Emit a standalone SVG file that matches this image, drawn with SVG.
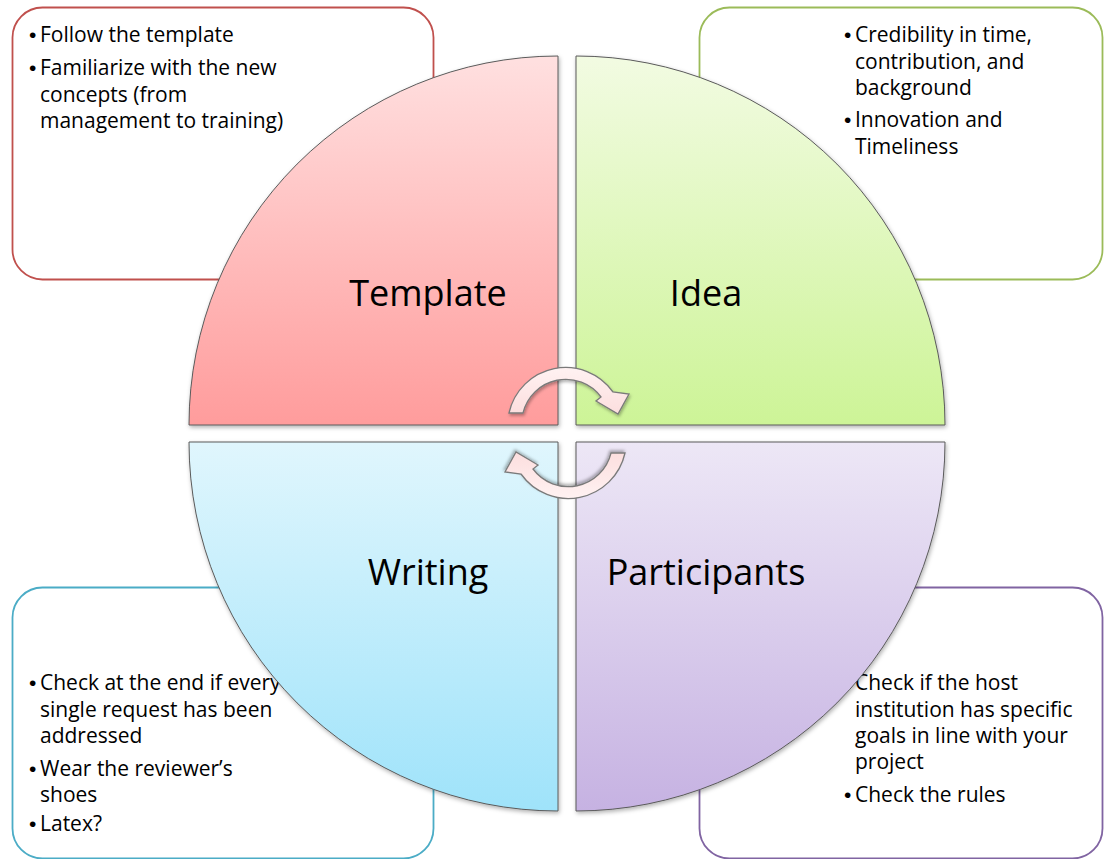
<svg xmlns="http://www.w3.org/2000/svg" width="1104" height="859" viewBox="0 0 1104 859">
<defs>
<style>
.box{fill:#fff;stroke-width:1.8}
.t{font-family:"Open Sans","Liberation Sans",sans-serif;font-size:21px;fill:#000}
.b{font-family:"Liberation Sans","DejaVu Sans",sans-serif;font-size:21px}
.lbl{font-family:"Open Sans","Liberation Sans",sans-serif;font-size:36px;fill:#000;text-anchor:middle}
.q{stroke:#5a5a5a;stroke-width:1;filter:url(#sh)}
.arr{fill:url(#gA);stroke:#7a7a7a;stroke-width:1.3;filter:url(#sh2)}
</style>
<linearGradient id="gT" x1="0" y1="0" x2="0" y2="1"><stop offset="0" stop-color="#ffe0e0"/><stop offset="1" stop-color="#ff9c9c"/></linearGradient>
<linearGradient id="gI" x1="0" y1="0" x2="0" y2="1"><stop offset="0" stop-color="#f2fbe2"/><stop offset="1" stop-color="#cdf497"/></linearGradient>
<linearGradient id="gW" x1="0" y1="0" x2="0" y2="1"><stop offset="0" stop-color="#e0f6fd"/><stop offset="1" stop-color="#9fe3fa"/></linearGradient>
<linearGradient id="gP" x1="0" y1="0" x2="0" y2="1"><stop offset="0" stop-color="#ede7f6"/><stop offset="1" stop-color="#c6b2e2"/></linearGradient>
<linearGradient id="gA" x1="0" y1="0" x2="0" y2="1"><stop offset="0" stop-color="#fff2f2"/><stop offset="1" stop-color="#fcdede"/></linearGradient>
<filter id="sh" x="-10%" y="-10%" width="120%" height="120%"><feDropShadow dx="1" dy="2" stdDeviation="2" flood-color="#000" flood-opacity="0.3"/></filter>
<filter id="sh2" x="-20%" y="-20%" width="140%" height="140%"><feDropShadow dx="1" dy="2" stdDeviation="1.5" flood-color="#000" flood-opacity="0.3"/></filter>
</defs>
<rect width="1104" height="859" fill="#fff"/>

<g id="box-template">
<rect class="box" x="12.5" y="7.5" width="421" height="272" rx="30" stroke="#c0504d"/>
<text class="t"><tspan class="b" x="29" y="42">•</tspan><tspan x="40" y="42">Follow the template</tspan><tspan class="b" x="29" y="75">•</tspan><tspan x="40" y="75">Familiarize with the new</tspan><tspan x="40" y="101.5">concepts (from</tspan><tspan x="40" y="128">management to training)</tspan></text>
</g>
<g id="box-idea">
<rect class="box" x="699.5" y="7.5" width="403" height="272" rx="30" stroke="#9bbb59"/>
<text class="t"><tspan class="b" x="844" y="42">•</tspan><tspan x="855" y="42">Credibility in time,</tspan><tspan x="855" y="68.5">contribution, and</tspan><tspan x="855" y="94.5">background</tspan><tspan class="b" x="844" y="127">•</tspan><tspan x="855" y="127">Innovation and</tspan><tspan x="855" y="153.5">Timeliness</tspan></text>
</g>
<g id="box-writing">
<rect class="box" x="12.5" y="587.5" width="421" height="271" rx="30" stroke="#4bacc6"/>
<text class="t"><tspan class="b" x="29" y="690">•</tspan><tspan x="40" y="690">Check at the end if every</tspan><tspan x="40" y="716.5">single request has been</tspan><tspan x="40" y="743">addressed</tspan><tspan class="b" x="29" y="775.5">•</tspan><tspan x="40" y="775.5">Wear the reviewer’s</tspan><tspan x="40" y="802">shoes</tspan><tspan class="b" x="29" y="831">•</tspan><tspan x="40" y="831">Latex?</tspan></text>
</g>
<g id="box-participants">
<rect class="box" x="699.5" y="587.5" width="403" height="271" rx="30" stroke="#8064a2"/>
<text class="t"><tspan class="b" x="844" y="690">•</tspan><tspan x="855" y="690">Check if the host</tspan><tspan x="855" y="716.5">institution has specific</tspan><tspan x="855" y="743">goals in line with your</tspan><tspan x="855" y="769">project</tspan><tspan class="b" x="844" y="802">•</tspan><tspan x="855" y="802">Check the rules</tspan></text>
</g>

<g id="node-template">
<path class="q" fill="url(#gT)" d="M558 425 L189 425 A369 369 0 0 1 558 56 Z"/>
<text class="lbl" x="428" y="306">Template</text>
</g>
<g id="node-idea">
<path class="q" fill="url(#gI)" d="M576 425 L576 56 A369 369 0 0 1 945 425 Z"/>
<text class="lbl" x="706" y="306">Idea</text>
</g>
<g id="node-writing">
<path class="q" fill="url(#gW)" d="M558 442 L558 811 A369 369 0 0 1 189 442 Z"/>
<text class="lbl" x="428" y="585">Writing</text>
</g>
<g id="node-participants">
<path class="q" fill="url(#gP)" d="M576 442 L945 442 A369 369 0 0 1 576 811 Z"/>
<text class="lbl" x="706" y="585">Participants</text>
</g>

<g id="connectors">
<path class="arr" d="M509 413 A58 58 0 0 1 613 392 L629 394 L618 414 L596 401 L601 397 A44 44 0 0 0 523 413 Z"/>
<path class="arr" transform="rotate(180 567 433)" d="M509 413 A58 58 0 0 1 613 392 L629 394 L618 414 L596 401 L601 397 A44 44 0 0 0 523 413 Z"/>
</g>
</svg>
